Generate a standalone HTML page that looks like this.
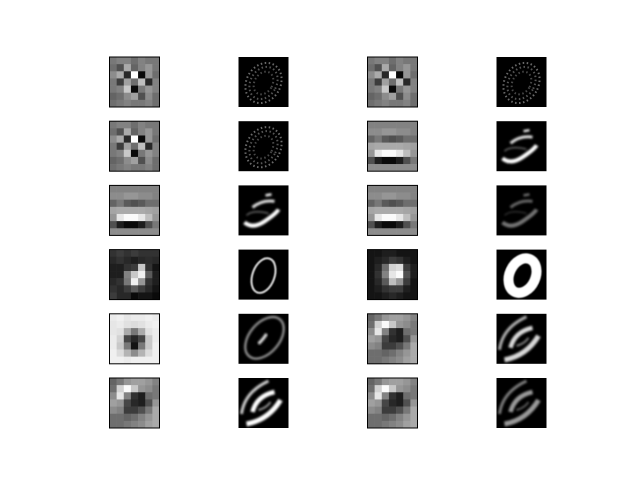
<!DOCTYPE html>
<html><head><meta charset="utf-8"><style>
html,body{margin:0;padding:0;background:#fff;}
svg{display:block;}
</style></head><body>
<svg id="fig" width="640" height="480" viewBox="0 0 640 480" xmlns="http://www.w3.org/2000/svg">
<defs>
<filter id="b1" x="-20%" y="-20%" width="140%" height="140%"><feGaussianBlur stdDeviation="1.1"/></filter>
<filter id="b2" x="-20%" y="-20%" width="140%" height="140%"><feGaussianBlur stdDeviation="0.6"/></filter>
<clipPath id="cl"><rect x="0" y="0" width="50" height="50"/></clipPath>
</defs>
<rect width="640" height="480" fill="#fff"/>
</svg>
<script>
// 7x7 filter weights (gray 0-255)
const filterA=[[120,130,130,110,130,120,120],[110,80,170,100,130,150,120],[140,170,40,255,10,150,110],[120,60,160,110,190,40,130],[120,130,200,10,120,150,130],[100,110,140,160,80,140,110],[110,120,130,120,120,130,110]];
const filterB=[[130,130,130,130,130,130,130],[140,140,150,150,140,140,130],[100,120,90,80,90,110,110],[165,170,170,170,170,165,160],[150,230,250,250,230,190,150],[80,30,10,10,30,80,120],[140,140,140,140,140,140,140]];
const filterC=[[50,60,50,60,50,50,50],[40,50,40,30,40,45,40],[30,30,50,60,200,50,20],[30,30,130,200,240,90,30],[40,50,120,240,150,50,30],[50,40,60,90,60,40,20],[60,40,40,10,20,20,10]];
const filterD=[[20,20,30,30,20,20,20],[20,30,40,60,50,30,20],[20,40,110,210,220,60,30],[20,50,130,230,250,80,30],[20,40,90,190,150,60,20],[20,30,50,60,60,30,20],[20,20,30,40,30,20,20]];
const filterE=[[235,240,230,235,235,240,235],[230,235,225,220,225,235,240],[230,225,170,120,170,225,235],[235,210,70,40,70,200,235],[235,200,120,20,120,200,240],[240,220,180,140,180,220,240],[240,240,235,240,240,240,240]];
const filterF=[[100,120,150,160,160,150,130],[110,210,250,200,150,140,120],[140,230,130,50,30,110,120],[160,150,70,40,30,80,150],[140,130,60,60,80,120,170],[110,110,100,110,130,150,170],[110,110,120,130,140,160,170]];
const filters=[filterA,filterB,filterC,filterD,filterE,filterF];
// layout: [row][col] -> filter index or feature map type
const gridKinds=[[0,'speckle',0,'speckle'],[0,'speckle',1,'stroke'],[1,'stroke',1,'strokefaint'],[2,'outline0',3,'thick0'],[4,'ring',5,'diag'],[5,'diagbright',5,'diagfaint']];
const NS='http://www.w3.org/2000/svg';
const svg=document.getElementById('fig');
const colX=[109.5,238.5,367.5,496.5], rowY0=57, rowStep=64.2, S=50;
function el(t,a,p){const e=document.createElementNS(NS,t);for(const k in a)e.setAttribute(k,a[k]);(p||svg).appendChild(e);return e;}
function fm(g,kind){
  el('rect',{x:0,y:0,width:S,height:S,fill:'#000'},g);
  const s=el('g',{'clip-path':'url(#cl)'},g);
  if(kind==='speckle'){
    [[17,21,'#999'],[13,17,'#777'],[9,12,'#666']].forEach(([rx,ry,c])=>{
      el('ellipse',{cx:25,cy:26,rx:rx,ry:ry,transform:'rotate(30 25 26)',fill:'none',stroke:c,'stroke-width':2,'stroke-dasharray':'1.5 2.5',opacity:0.7},s);
    });
  } else if(kind==='stroke'||kind==='strokefaint'){
    const op=kind==='stroke'?1:0.45;
    const gg=el('g',{opacity:op,filter:'url(#b1)'},s);
    el('path',{d:'M6 37 Q14 44 26 36 T40 24',fill:'none',stroke:'#fff','stroke-width':4},gg);
    el('path',{d:'M14 22 Q24 14 36 16',fill:'none',stroke:'#ddd','stroke-width':3},gg);
    el('path',{d:'M27 10 L33 9',fill:'none',stroke:'#eee','stroke-width':2.5},gg);
    el('path',{d:'M8 30 Q14 24 30 28',fill:'none',stroke:'#666','stroke-width':1.5},gg);
  } else if(kind==='outline0'){
    el('ellipse',{cx:25,cy:26,rx:11,ry:18,transform:'rotate(20 25 26)',fill:'none',stroke:'#ccc','stroke-width':2.2,filter:'url(#b2)'},s);
  } else if(kind==='thick0'){
    el('ellipse',{cx:26,cy:26,rx:13,ry:18,transform:'rotate(25 26 26)',fill:'none',stroke:'#fff','stroke-width':10,filter:'url(#b2)'},s);
  } else if(kind==='ring'){
    el('ellipse',{cx:26,cy:24,rx:15,ry:24,transform:'rotate(40 26 24)',fill:'none',stroke:'#aaa','stroke-width':2,filter:'url(#b1)'},s);
    el('path',{d:'M20 30 Q26 24 28 20',fill:'none',stroke:'#ddd','stroke-width':3,filter:'url(#b1)'},s);
  } else {
    const op=kind==='diagbright'?1:(kind==='diag'?0.85:0.6);
    const gg=el('g',{opacity:op,filter:'url(#b1)'},s);
    el('path',{d:'M3 36 Q6 14 30 3',fill:'none',stroke:'#ccc','stroke-width':3},gg);
    el('path',{d:'M8 46 Q30 42 42 22',fill:'none',stroke:'#fff','stroke-width':5},gg);
    el('path',{d:'M14 34 Q18 18 36 14',fill:'none',stroke:'#fff','stroke-width':4.5},gg);
    el('path',{d:'M20 32 Q28 30 32 24',fill:'none',stroke:'#999','stroke-width':2},gg);
  }
}
gridKinds.forEach((row,r)=>{
  row.forEach((k,c)=>{
    const g=el('g',{transform:`translate(${colX[c]},${(rowY0+r*rowStep).toFixed(1)})`});
    
    
    if(typeof k==='number'){
      const f=filters[k], n=f.length, cs=S/n;
      f.forEach((vals,i)=>vals.forEach((v,j)=>{
        el('rect',{x:(j*cs).toFixed(2),y:(i*cs).toFixed(2),width:(cs+0.3).toFixed(2),height:(cs+0.3).toFixed(2),fill:`rgb(${v},${v},${v})`},g);
      }));
      el('rect',{x:0,y:0,width:S,height:S,fill:'none',stroke:'#000','stroke-width':1},g);
    } else fm(g,k);
  });
});
</script>
</body></html>
